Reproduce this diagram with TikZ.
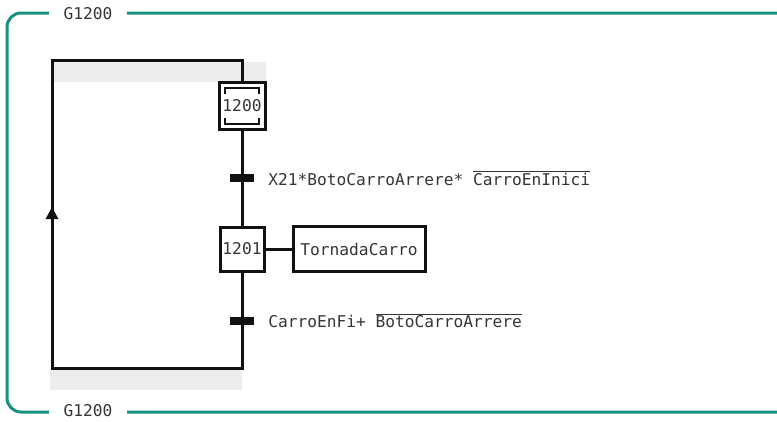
\documentclass[tikz,border=0pt]{standalone}
\usepackage{fontspec}
\setmonofont{DejaVu Sans Mono}
\usetikzlibrary{arrows.meta,positioning,calc}
\definecolor{cFrame}{HTML}{17917F}
\definecolor{cBand}{HTML}{ECECEC}
\definecolor{cInk}{HTML}{111111}
\newcommand{\negsig}[1]{\ensuremath{\overline{\mbox{#1}}}}
\tikzset{
  x=1pt,y=-1pt,
  >=Triangle,
  mono/.style    ={font=\ttfamily\fontsize{16.2}{19}\selectfont,text=cInk!85},
  frame/.style   ={draw=cFrame,line width=3pt,rounded corners=14pt},
  glbl/.style    ={mono,fill=white,inner xsep=15pt,inner ysep=4pt},
  stepbox/.style ={mono,draw=cInk,line width=3pt,fill=white,inner sep=0pt,
                   minimum width=44pt,minimum height=44pt},
  actbox/.style  ={mono,draw=cInk,line width=3pt,fill=white,inner sep=0pt,
                   minimum width=132pt,minimum height=45pt},
  tbar/.style    ={fill=cInk,inner sep=0pt,minimum width=24pt,minimum height=8pt},
  cond/.style    ={mono,inner sep=0pt,anchor=west},
  ln/.style      ={draw=cInk,line width=3pt},
}
\begin{document}
\begin{tikzpicture}
\useasboundingbox (0,0) rectangle (777,421);
% group frame
\draw[frame] (777,13) -- (7,13) -- (7,412) -- (777,412);
\node[glbl] (gtop) at (88,14) {G1200};
\node[glbl] (gbot) at (88,411) {G1200};
% shaded bands of the loop
\fill[cBand] (52,62) rectangle (266,82);
\fill[cBand] (50,370) rectangle (242,390);
% steps and transitions
\node[stepbox,minimum width=46pt,minimum height=47pt] (s1200) at (242,106) {1200};
\draw[cInk,line width=2.8pt] ($(s1200.center)+(-17,-12)$) -- ++(0,-6) -- ++(34,0) -- ++(0,6);
\draw[cInk,line width=2.8pt] ($(s1200.center)+(-17,12)$) -- ++(0,6) -- ++(34,0) -- ++(0,-6);
\node[tbar] (t1) at (242,178) {};
\node[cond,right=14pt of t1] (c1) {X21*BotoCarroArrere* \negsig{CarroEnInici}};
\node[stepbox] (s1201) at (242,249) {1201};
\node[actbox,right=26pt of s1201] (a1201) {TornadaCarro};
\node[tbar] (t2) at (242,321) {};
\node[cond,right=14pt of t2] (c2) {CarroEnFi+ \negsig{BotoCarroArrere}};
% loop back
\coordinate (ctr) at (242,60);
\coordinate (ctl) at (52,60);
\coordinate (cbl) at (52,368);
\coordinate (cbr) at (242,368);
\coordinate (carr) at (52,207);
\draw[ln] (s1200) -- (t1) -- (s1201) -- (t2);
\draw[ln] (s1201) -- (a1201);
\draw[ln,line join=miter] (s1200.north) -- (ctr) -- (ctl) -- (cbl) -- (cbr) -- (t2);
\draw[ln,-{Triangle[length=12pt,width=12pt]}] (cbl) -- (carr);
\end{tikzpicture}
\end{document}
